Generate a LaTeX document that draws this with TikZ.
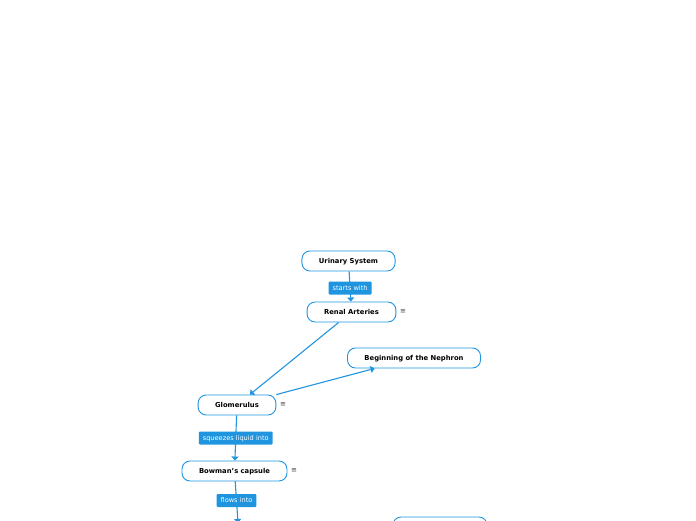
\documentclass[tikz,border=0pt]{standalone}
\usepackage{fontspec}
\setmainfont{DejaVu Sans}
\usepackage{tikz}
\usetikzlibrary{arrows.meta, positioning}
\definecolor{mmblue}{HTML}{1F95E0}

\begin{document}
\begin{tikzpicture}[
  x=1pt, y=-1pt,
  font=\fontsize{6.8}{8}\selectfont,
  topic/.style={draw=mmblue, line width=0.9pt, fill=white, rounded corners=8pt, minimum height=20pt, inner xsep=17pt, inner ysep=2pt, text height=5pt, text depth=0pt, font=\fontsize{6.8}{8}\selectfont\bfseries},
  lbl/.style={fill=mmblue, rounded corners=1pt, text=white, minimum height=13pt, inner xsep=4pt, inner ysep=1pt, text height=4.8pt, text depth=0pt, font=\fontsize{6.6}{8}\selectfont},
  ar/.style={-{Triangle[length=4pt, width=7pt]}, mmblue, line width=1.1pt},
  icon/.style={text=black!75, inner sep=0pt, font=\fontsize{7}{8}\selectfont}
]
\useasboundingbox (0,0) rectangle (696,520);
\clip (0,0) rectangle (696,520);
\node[topic] (urinary) at (348.5,261) {Urinary System};
\node[topic] (renal) at (351.5,312) {Renal Arteries};
\node[topic] (nephron) at (414,358) {Beginning of the Nephron};
\node[topic] (glom) at (237,405) {Glomerulus};
\node[topic] (bowman) at (234.5,471) {Bowman's capsule};
\node[topic, minimum width=94pt] (nextbox) at (440,527) {};
\coordinate (offnext) at (238,523);
\node[icon, right=3.5pt of renal] {≡};
\node[icon, right=3.5pt of glom] {≡};
\node[icon, right=3.5pt of bowman] {≡};
\draw[ar] (urinary) -- node[lbl, pos=0.55] {starts with} (renal);
\draw[ar] (renal) -- (glom);
\draw[ar] (glom) -- (nephron);
\draw[ar] (glom) -- node[lbl, pos=0.5] {squeezes liquid into} (bowman);
\draw[ar] (bowman) -- node[lbl, pos=0.46] {flows into} (offnext);
\end{tikzpicture}
\end{document}
